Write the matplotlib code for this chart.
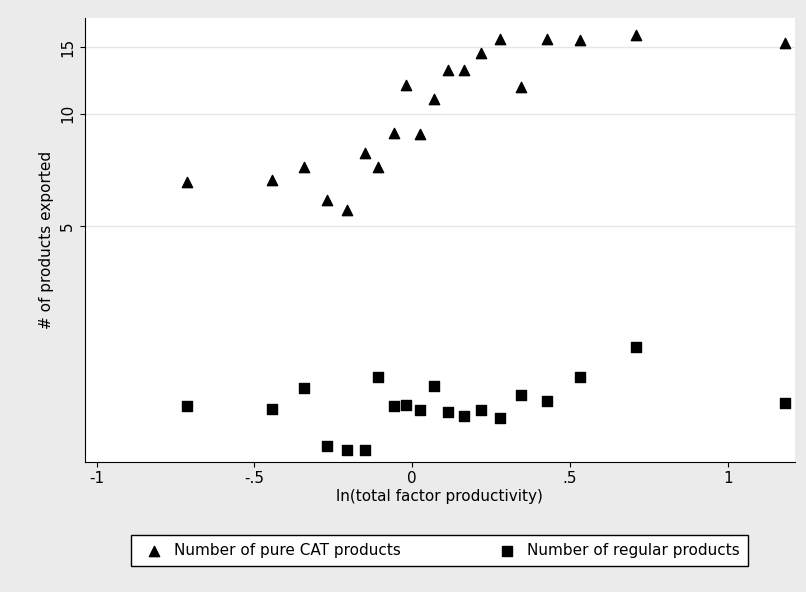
import matplotlib
matplotlib.use('Agg')
import matplotlib.pyplot as plt
from matplotlib.ticker import FixedLocator, NullLocator

tfp = [-0.715, -0.445, -0.344, -0.271, -0.208, -0.150, -0.109, -0.059, -0.021, 0.024,
       0.068, 0.113, 0.163, 0.217, 0.277, 0.344, 0.426, 0.531, 0.708, 1.181]
pure_cat = [6.55, 6.67, 7.22, 5.90, 5.52, 7.87, 7.22, 8.85, 11.9, 8.80,
            10.9, 13.1, 13.1, 14.5, 15.8, 11.75, 15.8, 15.7, 16.2, 15.4]
regular = [1.66, 1.63, 1.85, 1.30, 1.27, 1.27, 1.99, 1.66, 1.67, 1.62,
           1.88, 1.60, 1.56, 1.62, 1.54, 1.78, 1.71, 1.98, 2.39, 1.69]

x_ticks = [-1, -0.5, 0, 0.5, 1]
x_labels = ['-1', '-.5', '0', '.5', '1']
y_ticks = [5, 10, 15]

fig = plt.figure(figsize=(8.06, 5.92), dpi=100, facecolor='#ebebeb')
ax = fig.add_axes([0.105, 0.22, 0.881, 0.75])
ax.set_facecolor('white')

ax.scatter(tfp, pure_cat, marker='^', s=55, color='black', label='Number of pure CAT products', zorder=3)
ax.scatter(tfp, regular, marker='s', s=45, color='black', label='Number of regular products', zorder=3)

ax.set_yscale('log')
ax.set_ylim(1.18, 18.0)
ax.set_xlim(-1.038, 1.212)
ax.yaxis.set_major_locator(FixedLocator(y_ticks))
ax.yaxis.set_minor_locator(NullLocator())
ax.set_yticklabels([str(t) for t in y_ticks], rotation=90, va='center')
ax.set_xticks(x_ticks)
ax.set_xticklabels(x_labels)
ax.grid(axis='y', color='#e6e6e6', linewidth=1)
ax.set_axisbelow(True)
for s in ['top', 'right']:
    ax.spines[s].set_visible(False)
ax.tick_params(labelsize=11)

ax.set_xlabel('ln(total factor productivity)', fontsize=11, labelpad=2)
ax.set_ylabel('# of products exported', fontsize=11)

fig.legend(loc='center', bbox_to_anchor=(0.545, 0.07), ncol=2, fontsize=11,
           fancybox=False, edgecolor='black', framealpha=1, columnspacing=6,
           handletextpad=0.3, borderpad=0.5, borderaxespad=0)

fig.savefig('out.png', dpi=100, facecolor=fig.get_facecolor())
